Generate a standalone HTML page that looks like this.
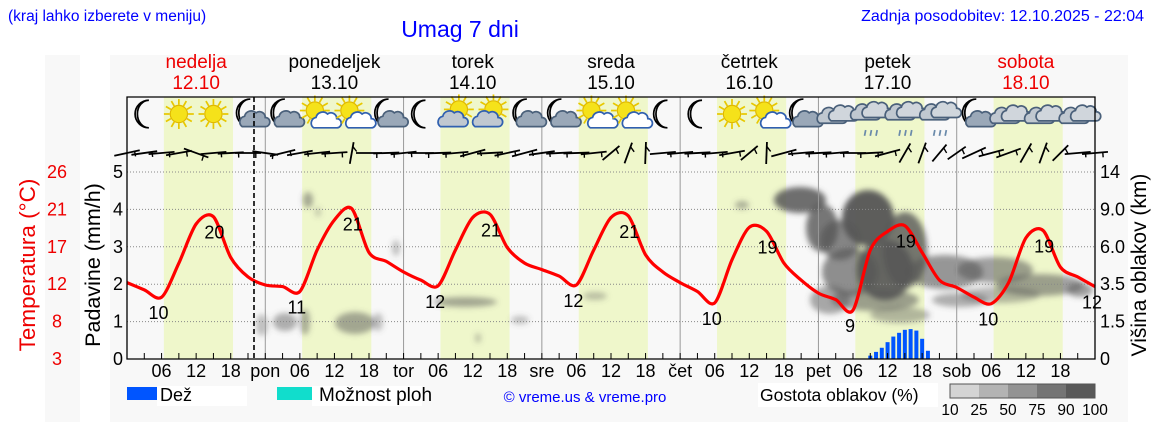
<!DOCTYPE html>
<html><head><meta charset="utf-8"><style>
body{margin:0;background:#fff;width:1152px;height:443px;overflow:hidden;font-family:"Liberation Sans",sans-serif}
svg{display:block}
</style></head><body>
<svg id="c" width="1152" height="443" viewBox="0 0 1152 443">
<defs>
<filter id="bl" x="-50%" y="-50%" width="200%" height="200%"><feGaussianBlur stdDeviation="3"/></filter>
</defs>
<rect x="45" y="55" width="35" height="367" fill="#f8f8f8"/>
<rect x="110" y="55" width="1018" height="367" fill="#f8f8f8"/>
<text x="8" y="21" font-size="15.5" fill="#0000ff">(kraj lahko izberete v meniju)</text>
<text x="460" y="37" font-size="23" fill="#0000ff" text-anchor="middle">Umag 7 dni</text>
<text x="1144" y="21" font-size="16" fill="#0000ff" text-anchor="end">Zadnja posodobitev: 12.10.2025 - 22:04</text>
<g id="bands"></g>
<g id="clouds" filter="url(#bl)"></g>
<g id="grid"></g>
<g id="bars"></g>
<g id="temp"></g>
<g id="icons"></g>
<g id="wind"></g>
<g id="axes"></g>
<g id="legend">
<rect x="127" y="387" width="47" height="13" fill="#0055ff"/>
<rect x="157" y="386" width="90" height="20" fill="#fff"/>
<text x="160" y="401" font-size="18">Dež</text>
<rect x="277" y="387" width="35" height="13" fill="#11ddcc"/>
<rect x="312" y="386" width="110" height="20" fill="#fff"/>
<text x="319" y="401" font-size="19">Možnost ploh</text>
<text x="585" y="402" font-size="15" fill="#0000ff" text-anchor="middle">© vreme.us &amp; vreme.pro</text>
<rect x="758" y="383" width="180" height="24" fill="#fff"/>
<text x="760" y="401" font-size="17.5">Gostota oblakov (%)</text>
<g id="dens"></g>
</g>
</svg>
<script>
const dayNames=["nedelja","ponedeljek","torek","sreda","četrtek","petek","sobota"];
const dayDates=["12.10","13.10","14.10","15.10","16.10","17.10","18.10"];
const dayShort=["","pon","tor","sre","čet","pet","sob"];
// temperature every 3h from Sun 00 to Sat 24
const temps=[12.4,11.5,10.6,14.8,19.6,20.5,15.5,13.1,
12.1,11.9,11.3,16.4,20.1,21.5,16.1,15.0,
13.7,12.7,12.0,16.4,20.4,20.8,16.7,14.8,
14.0,13.2,12.1,16.4,20.4,20.6,15.8,13.7,
12.4,11.3,9.9,15.2,19.2,18.7,14.8,12.7,
11.1,10.3,9.0,16.4,18.7,19.4,16.1,12.7,
11.8,10.6,9.8,12.4,17.9,18.8,14.3,13.1,11.9];
const tLabels=["10","20","11","21","12","21","12","21","10","19","9","19","10","19","12"];
const tLabelHours=[6,15,30,39,54,63,78,87,102,111,126,135,150,159,168];
const tLabelTemps=[10.6,20.5,11.3,21.5,12.0,20.8,12.1,20.6,9.9,18.7,9.0,19.4,9.8,18.8,11.9];
const rainHours=[9,10,11,12,13,14,15,16,17,18,19];
const rainVals=[0.09,0.19,0.3,0.45,0.6,0.7,0.78,0.8,0.76,0.54,0.22];
const precipTicks=[0,1,2,3,4,5];
const tempTicks=["3","8","12","17","21","26"];
const heightTicks=["0","1.5","3.5","6.0","9.0","14"];
const iconTypes=["moon","sun","sun","mooncloud","mooncloud","suncloud","suncloud","mooncloud",
"moon","sungrey","sungrey","mooncloud","mooncloud","suncloud","suncloud","moon",
"moon","sun","suncloud","mooncloud","clouds","rain","rain","rain",
"mooncloud","clouds","clouds","clouds"];
const windAng=[-12,-8,-5,-10,20,-5,-3,0,8,-14,-10,-6,-4,-80,0,-2,-6,0,-2,-5,-15,-3,-12,-15,-8,-3,-2,-6,-40,-70,-88,-5,-5,-3,-5,-10,-40,-88,-15,-5,-3,-5,0,-3,-15,-60,-70,-50,-35,-25,-15,-20,-60,-70,-45,-5,-5];
const cloudBlobs=[[308,200,5,8,0.5],[318,212,3,5,0.3],[262,325,6,11,0.35],[285,322,12,9,0.45],[305,322,5,13,0.45],[355,323,20,11,0.5],[378,322,5,9,0.35],[396,248,4,8,0.35],[465,302,32,5,0.5],[478,338,3,5,0.35],[520,320,9,4,0.35],[595,296,12,4,0.35],[742,205,7,4,0.45],[800,200,26,13,0.85],[822,228,16,24,0.8],[868,218,26,28,0.95],[885,270,28,30,0.9],[850,272,28,24,0.65],[875,300,44,11,0.55],[945,272,38,17,0.6],[995,270,38,13,0.55],[1040,285,44,11,0.55],[1080,290,13,7,0.55],[960,300,28,7,0.45],[840,240,20,20,0.7],[905,250,22,38,0.8],[830,300,20,14,0.5],[900,315,30,8,0.4],[1000,295,40,8,0.4]];
const NS="http://www.w3.org/2000/svg";
const X0=127,X1=1095,YB=359,PX=37.4;
function X(h){return X0+h*(X1-X0)/168}
function YP(v){return YB-v*PX}
function YT(t){return YB-(t-3)*PX/4.6}
function mk(tag,at,par){const e=document.createElementNS(NS,tag);for(const k in at)e.setAttribute(k,at[k]);par.appendChild(e);return e}
const g=id=>document.getElementById(id);
for(let d=0;d<7;d++){
 const b=mk('rect',{x:X(d*24+6.4),y:97,width:X(18.4)-X(6.4),height:262,fill:'#eff7cb'},g('bands'));
 
 
 const col=(d==0||d==6)?'#e00':'#000';
 const t1=mk('text',{x:X(d*24+12),y:68,'font-size':19,'text-anchor':'middle',fill:col},g('axes'));t1.textContent=dayNames[d];
 
 
 const t2=mk('text',{x:X(d*24+12),y:89,'font-size':19,'text-anchor':'middle',fill:col},g('axes'));t2.textContent=dayDates[d];
 
 
 if(d>0){const l=mk('line',{x1:X(d*24),x2:X(d*24),y1:97,y2:YB,stroke:'#999','stroke-width':1},g('grid'));
 
 }
 for(let h=0;h<24;h+=3){const hh=d*24+h;
  if(hh>0){const tk=mk('line',{x1:X(hh),x2:X(hh),y1:YB,y2:YB-6,stroke:'#000'},g('axes'));
  
  }
  let lab=null;if(h==6)lab='06';else if(h==12)lab='12';else if(h==18)lab='18';else if(h==0&&d>0)lab=dayShort[d];
  if(lab){const tl=mk('text',{x:X(hh),y:377,'font-size':18,'text-anchor':'middle'},g('axes'));tl.textContent=lab;
  
  }
 }
}
cloudBlobs.forEach(c=>{const e=mk('ellipse',{cx:c[0],cy:c[1],rx:c[2],ry:c[3],fill:'#555','fill-opacity':c[4]},g('clouds'));
 
 });
precipTicks.forEach((v,i)=>{
 if(v>0){const l=mk('line',{x1:X0,x2:X1,y1:YP(v),y2:YP(v),stroke:'#888','stroke-dasharray':'1,2'},g('grid'));
 
 }
 const t=mk('text',{x:118,y:YP(v)+6,'font-size':18,'text-anchor':'middle'},g('axes'));t.textContent=v;
 
 
 const t2=mk('text',{x:57,y:YP(v)+6,'font-size':18,'text-anchor':'middle',fill:'#e00'},g('axes'));t2.textContent=tempTicks[i];
 
 
 const t3=mk('text',{x:1100,y:YP(v)+6,'font-size':18},g('axes'));t3.textContent=heightTicks[i];
 
 
});
const ax=mk('path',{d:`M${X0},97 V${YB} H${X1} V97 Z`,fill:'none',stroke:'#000','stroke-width':1.3},g('axes'));


const nl=mk('line',{x1:254,x2:254,y1:97,y2:YB,stroke:'#000','stroke-width':1.6,'stroke-dasharray':'5,3'},g('axes'));


[["Padavine (mm/h)",100,265,'#000',21.5],["Temperatura (°C)",35,265,'#e00',22.5],["Višina oblakov (km)",1146,265,'#000',21]].forEach(a=>{
 const t=mk('text',{x:a[1],y:a[2],'font-size':a[4],'text-anchor':'middle',fill:a[3],transform:`rotate(-90 ${a[1]} ${a[2]})`},g('axes'));t.textContent=a[0];
 
 
});
rainHours.forEach((h,i)=>{const hh=120+h;const r=mk('rect',{x:X(hh)-2,y:YP(rainVals[i]),width:4,height:rainVals[i]*PX,fill:'#0055ff'},g('bars'));
 
 });
const P=temps.map((t,i)=>[X(i*3),YT(t)]);
let d='M'+P[0][0].toFixed(1)+','+P[0][1].toFixed(1);
for(let i=0;i<P.length-1;i++){const p0=P[Math.max(0,i-1)],p1=P[i],p2=P[i+1],p3=P[Math.min(P.length-1,i+2)];const k=0.15;
 d+=` C${(p1[0]+(p2[0]-p0[0])*k).toFixed(1)},${(p1[1]+(p2[1]-p0[1])*k).toFixed(1)} ${(p2[0]-(p3[0]-p1[0])*k).toFixed(1)},${(p2[1]-(p3[1]-p1[1])*k).toFixed(1)} ${p2[0].toFixed(1)},${p2[1].toFixed(1)}`;}
const tl=mk('path',{d:d,fill:'none',stroke:'#f00','stroke-width':3.2,'stroke-linejoin':'round'},g('temp'));


tLabels.forEach((s,i)=>{const isMax=i%2==1;const y=YT(tLabelTemps[i])+22;
 const t=mk('text',{x:X(tLabelHours[i])-(isMax?-1:3),y:y,'font-size':18,'text-anchor':'middle'},g('temp'));t.textContent=s;
 
 });
function moon(p,x,y){mk('path',{d:`M${x+4},${y-12} A12,12 0 1,0 ${x+4},${y+12} A10,12 0 0,1 ${x+4},${y-12}Z`,fill:'#fff',stroke:'#000','stroke-width':1.5},p)}
function sun(p,x,y){for(let a=0;a<12;a++){const r=a*Math.PI/6;mk('line',{x1:x+8*Math.cos(r),y1:y+8*Math.sin(r),x2:x+13*Math.cos(r),y2:y+13*Math.sin(r),stroke:'#e8c800','stroke-width':1.5},p)}mk('circle',{cx:x,cy:y,r:7.5,fill:'#f5e21a',stroke:'#e0b800'},p)}
function cloud(p,x,y,f,s){mk('path',{d:`M${x-10},${y+6} a5,5 0 0,1 2,-9 a6,6 0 0,1 10,-3 a5,5 0 0,1 8,4 a4,4 0 0,1 0,8 Z`,fill:f,stroke:s,'stroke-width':1.5},p)}
iconTypes.forEach((ty,i)=>{const cx=X(i*6+3),cy=114;const x=0,y=0;const grp=mk('g',{transform:`translate(${cx},${cy}) scale(1.15)`},g('icons'));
 
 
 if(ty=='moon')moon(grp,x,y);
 else if(ty=='sun')sun(grp,x,y);
 else if(ty=='mooncloud'){moon(grp,x-2,y-1);cloud(grp,x+5,y+5,'#9aa8b8','#4a607a')}
 else if(ty=='suncloud'){sun(grp,x-2,y-3);cloud(grp,x+7,y+6,'#fff','#3060b0')}
 else if(ty=='sungrey'){sun(grp,x+3,y-4);cloud(grp,x-3,y+5,'#c0c8d0','#3060b0')}
 else if(ty=='clouds'){cloud(grp,x-4,y+2,'#c0c8d0','#4a607a');cloud(grp,x+6,y,'#d0d6dc','#4a607a')}
 else if(ty=='rain'){cloud(grp,x-5,y-1,'#c0c8d0','#4a607a');cloud(grp,x+5,y-3,'#d0d6dc','#4a607a');
  [-4,1,6].forEach(dx=>mk('line',{x1:x+dx,y1:y+14,x2:x+dx-1,y2:y+19,stroke:'#6a8aaa','stroke-width':1.5},grp))}
});
windAng.forEach((a,i)=>{const x=X(i*3),y=153,r=a*Math.PI/180,L=a<-30?11:13;
 const dx=L*Math.cos(r),dy=L*Math.sin(r);
 const w=mk('g',{},g('wind'));
 
 
 mk('line',{x1:x-dx,y1:y-dy,x2:x+dx,y2:y+dy,stroke:'#000','stroke-width':1.8},w);
 mk('line',{x1:x+dx*0.6,y1:y+dy*0.6,x2:x+dx*0.6-dy*0.35,y2:y+dy*0.6+5,stroke:'#000','stroke-width':1.4},w);
});
const dc=['#d4d4d4','#b3b3b3','#939393','#747474','#595959'];const dl=['10','25','50','75','90','100'];
dc.forEach((c,i)=>{const r=mk('rect',{x:950+i*29,y:384,width:29,height:14,fill:c},g('dens'));
 
 });
mk('rect',{x:950,y:384,width:145,height:14,fill:'none',stroke:'#555'},g('dens'));
dl.forEach((s,i)=>{const t=mk('text',{x:950+i*29,y:415,'font-size':15.5,'text-anchor':'middle'},g('dens'));t.textContent=s;
 
 });
</script>
</body></html>
